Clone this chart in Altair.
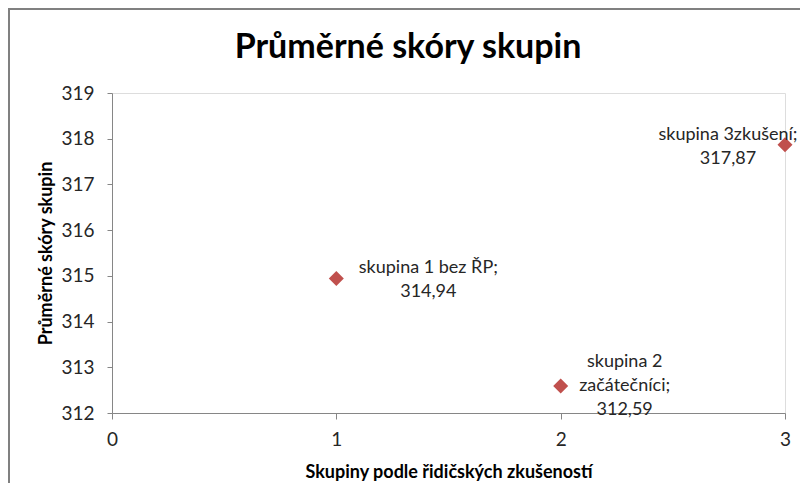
import altair as alt
import pandas as pd

# ---- data ----
chart_title = "Průměrné skóry skupin"
x_title = "Skupiny podle řidičských zkušeností"
y_title = "Průměrné skóry skupin"
x_vals = [1, 2, 3]
scores = [314.94, 312.59, 317.87]
label_lines = [["skupina 1 bez ŘP;"], ["skupina 2", "začátečníci;"], ["skupina 3zkušení;"]]
x_ticks = [0, 1, 2, 3]
y_ticks = [312, 313, 314, 315, 316, 317, 318, 319]

labels = ["\n".join(lines + [f"{v:.2f}".replace(".", ",")]) for lines, v in zip(label_lines, scores)]
df = pd.DataFrame({"x": x_vals, "score": scores, "label": labels})

# ---- style ----
W, H = 673, 320
FONT = "Lato"
AX = "#868686"
TXT = "#262626"
MARKER = "#C0504D"

xscale = alt.Scale(domain=[x_ticks[0], x_ticks[-1]], nice=False, zero=False)
yscale = alt.Scale(domain=[y_ticks[0], y_ticks[-1]], nice=False, zero=False)

x_axis = alt.Axis(
    values=x_ticks, format="d", grid=False, domainColor=AX, tickColor=AX,
    tickSize=6, labelPadding=11, labelFlush=False, labelFont=FONT, labelFontSize=19,
    labelColor=TXT,
    title=x_title, titleFont=FONT, titleFontSize=18, titleFontWeight="bold",
    titleColor="#000000", titleX=W / 2, titleY=59, titleAlign="center",
    titleBaseline="middle", titleAnchor="start",
)
y_axis = alt.Axis(
    values=y_ticks, format="d", grid=False, domainColor=AX, tickColor=AX,
    tickSize=5, labelPadding=13, labelFlush=False, labelFont=FONT, labelFontSize=19,
    labelColor=TXT,
    title=y_title, titleFont=FONT, titleFontSize=18, titleFontWeight="bold",
    titleColor="#000000", titleX=-66, titleY=H / 2, titleAngle=-90,
    titleAlign="center", titleBaseline="middle", titleAnchor="start",
)

base = alt.Chart(df)

points = base.mark_point(shape="diamond", filled=True, size=225, color=MARKER, opacity=1).encode(
    x=alt.X("x:Q", scale=xscale, axis=x_axis),
    y=alt.Y("score:Q", scale=yscale, axis=y_axis),
)

offsets = {1: (92, -11), 2: (64, -24), 3: (-57, -10)}
text_layers = []
for xv, (ddx, ddy) in offsets.items():
    text_layers.append(
        base.transform_filter(alt.datum.x == xv)
        .mark_text(font=FONT, fontSize=18, color=TXT, lineBreak="\n", lineHeight=24,
                   align="center", baseline="middle", dx=ddx, dy=ddy)
        .encode(x=alt.X("x:Q", scale=xscale), y=alt.Y("score:Q", scale=yscale), text="label:N")
    )

title_layer = alt.Chart(pd.DataFrame({"t": [chart_title]})).mark_text(
    font=FONT, fontSize=34, fontWeight="bold", color="#000000", align="center", baseline="middle"
).encode(text="t:N", x=alt.value(296), y=alt.value(-45))

border = alt.Chart(pd.DataFrame({"a": [0]})).mark_rect(
    fillOpacity=0, stroke="#808080", strokeWidth=2
).encode(x=alt.value(-103), x2=alt.value(1200), y=alt.value(-84), y2=alt.value(1200))

chart = alt.layer(border, points, *text_layers, title_layer).properties(
    width=W, height=H,
    padding={"left": 104, "top": 85, "right": 15, "bottom": 70},
    autosize=alt.AutoSizeParams(type="none"),
).configure_view(stroke=None).configure(background="white")

chart.save("out.html", embed_options={"renderer": "svg", "actions": False})
